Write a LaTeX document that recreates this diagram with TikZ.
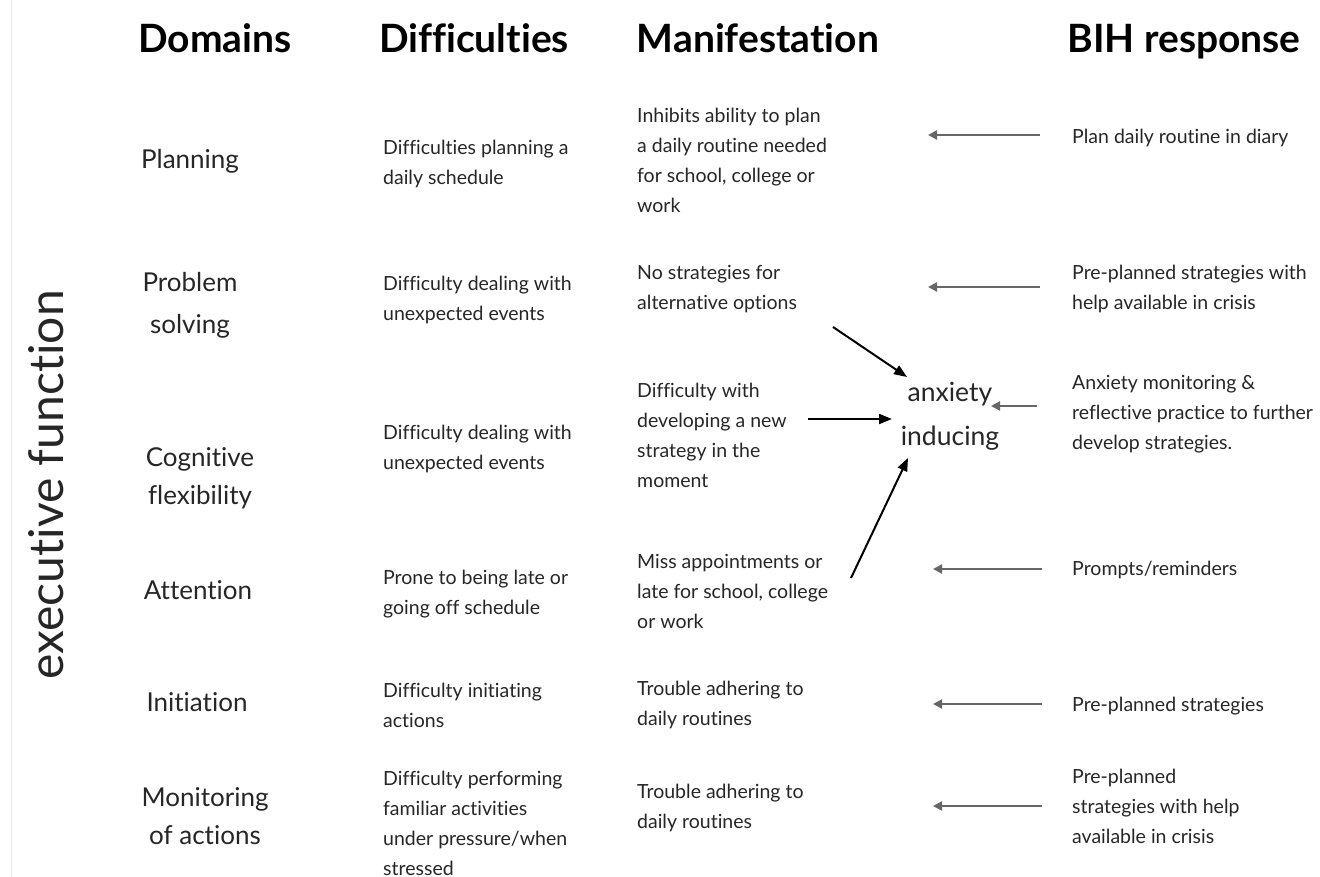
\documentclass[tikz,border=0pt]{standalone}
\usepackage{fontspec}
\setmainfont{Lato}[Ligatures={NoCommon,NoContextual},Contextuals={NoAlternate},RawFeature={-dlig}]
\usetikzlibrary{arrows.meta}
\begin{document}
\begin{tikzpicture}[x=1pt,y=-1pt,
  hdr/.style={font=\fontsize{39}{44}\selectfont\bfseries, anchor=base, inner sep=0pt},
  dom/.style={font=\fontsize{26}{38}\selectfont, align=center, anchor=base, inner sep=0pt, text=black!85},
  body/.style={font=\fontsize{19.5}{30}\selectfont, align=left, anchor=base west, inner sep=0pt, text=black!85},
  garrow/.style={draw=black!60, line width=2.5pt, -{Triangle[length=9pt,width=9pt]}},
  barrow/.style={draw=black, line width=2pt, -{Triangle[length=13pt,width=10pt]}}]
\useasboundingbox (0,0) rectangle (1320,877);
\draw[black!8, line width=1pt] (11,0) -- (11,877);
% headers
\node[hdr] (h1) at (215,53) {Domains};
\node[hdr] (h2) at (474,53) {Difficulties};
\node[hdr] (h3) at (758,53) {Manifestation};
\node[hdr] (h4) at (1184,53) {BIH response};
% side label
\node[font=\fontsize{48}{48}\selectfont, rotate=90, text=black!85, inner sep=0pt] (ef) at (46,485) {executive function};
% domains (anchor = baseline of last line)
\node[dom] (d1) at (190,169) {Planning};
\node[dom] (d2) at (190,334) {Problem\\[4pt]solving};
\node[dom] (d3) at (200,504) {Cognitive\\flexibility};
\node[dom] (d4) at (198,599) {Attention};
\node[dom] (d5) at (197,711) {Initiation};
\node[dom] (d6) at (205,844) {Monitoring\\of actions};
% difficulties
\node[body] (f1) at (383,185) {Difficulties planning a\\daily schedule};
\node[body] (f2) at (383,320) {Difficulty dealing with\\unexpected events};
\node[body] (f3) at (383,469) {Difficulty dealing with\\unexpected events};
\node[body] (f4) at (383,614) {Prone to being late or\\going off schedule};
\node[body] (f5) at (383,727) {Difficulty initiating\\actions};
\node[body] (f6) at (383,875) {Difficulty performing\\familiar activities\\under pressure/when\\stressed};
% manifestation
\node[body] (m1) at (637,213) {Inhibits ability to plan\\a daily routine needed\\for school, college or\\work};
\node[body] (m2) at (637,310) {No strategies for\\alternative options};
\node[body] (m3) at (637,487) {Difficulty with\\developing a new\\strategy in the\\moment};
\node[body] (m4) at (637,628) {Miss appointments or\\late for school, college\\or work};
\node[body] (m5) at (637,725) {Trouble adhering to\\daily routines};
\node[body] (m6) at (637,828) {Trouble adhering to\\daily routines};
% BIH
\node[body] (b1) at (1072,144) {Plan daily routine in diary};
\node[body] (b2) at (1072,309) {Pre-planned strategies with\\help available in crisis};
\node[body] (b3) at (1072,449) {Anxiety monitoring \&\\reflective practice to further\\develop strategies.};
\node[body] (b4) at (1072,575) {Prompts/reminders};
\node[body] (b5) at (1072,711) {Pre-planned strategies};
\node[body] (b6) at (1072,843) {Pre-planned\\strategies with help\\available in crisis};
% anxiety
\node[font=\fontsize{26.5}{44}\selectfont, align=center, anchor=base, inner sep=0pt, text=black!85] (anx) at (950,445) {anxiety\\inducing};
% gray arrows
\coordinate (g1s) at (1040,135); \coordinate (g1e) at (928,135);
\coordinate (g2s) at (1040,287); \coordinate (g2e) at (928,287);
\coordinate (g3s) at (1037,406); \coordinate (g3e) at (991,406);
\coordinate (g4s) at (1042,569); \coordinate (g4e) at (933,569);
\coordinate (g5s) at (1042,704); \coordinate (g5e) at (933,704);
\coordinate (g6s) at (1042,806); \coordinate (g6e) at (933,806);
\draw[garrow] (g1s) -- (g1e);
\draw[garrow] (g2s) -- (g2e);
\draw[garrow] (g3s) -- (g3e);
\draw[garrow] (g4s) -- (g4e);
\draw[garrow] (g5s) -- (g5e);
\draw[garrow] (g6s) -- (g6e);
% black arrows
\coordinate (k1s) at (833,327); \coordinate (k1e) at (907,377);
\coordinate (k2s) at (808,419); \coordinate (k2e) at (892,419);
\coordinate (k3s) at (851,578); \coordinate (k3e) at (908,458);
\draw[barrow] (k1s) -- (k1e);
\draw[barrow] (k2s) -- (k2e);
\draw[barrow] (k3s) -- (k3e);
\end{tikzpicture}
\end{document}
